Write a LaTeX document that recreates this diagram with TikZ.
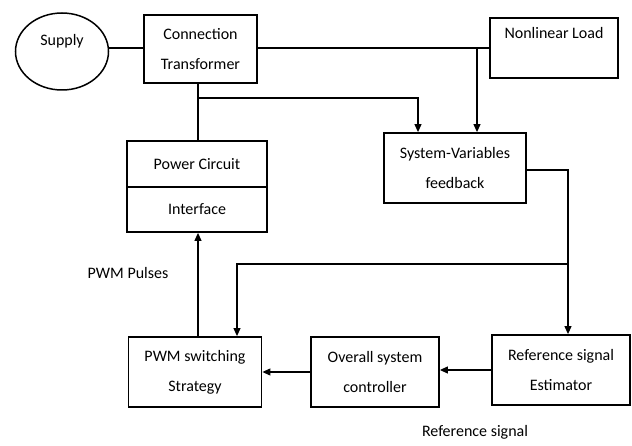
\documentclass[tikz,border=0pt]{standalone}
\usepackage{fontspec}
\setmainfont{Carlito}
\usetikzlibrary{arrows.meta,shapes.geometric}
\begin{document}
\begin{tikzpicture}[x=1pt,y=-1pt,
  font=\fontsize{16}{30}\selectfont,
  blk/.style={draw,line width=1.8pt,rectangle,inner sep=0pt,align=center},
  conn/.style={line width=1.1pt},
  arr/.style={line width=1.1pt,-{Triangle[length=8pt,width=7pt]}},
  lbl/.style={inner sep=0pt}]
\useasboundingbox (0,0) rectangle (632,446);
\node[draw,ellipse,line width=1.5pt,minimum width=93pt,minimum height=77pt,inner sep=0pt] (sup) at (62,51.5) {};
\node[lbl] (supt) at (62,41) {Supply};
\node[blk,minimum width=113pt,minimum height=68pt] (ct) at (200.5,49) {Connection\\Transformer};
\node[blk,minimum width=128pt,minimum height=60pt] (nl) at (554,48) {Nonlinear Load\\\mbox{}};
\node[blk,minimum width=142pt,minimum height=70pt] (svf) at (455,168) {System-Variables\\feedback};
\node[blk,minimum width=140pt,minimum height=46pt] (pc) at (197,164) {Power Circuit};
\node[blk,minimum width=140pt,minimum height=45pt] (intf) at (197,209.5) {Interface};
\node[blk,minimum width=133pt,minimum height=70pt] (pwm) at (195,372) {PWM switching\\Strategy};
\node[blk,minimum width=128pt,minimum height=70pt] (osc) at (375,372) {Overall system\\controller};
\node[blk,minimum width=138pt,minimum height=70pt] (rse) at (561,370) {Reference signal\\Estimator};
\node[lbl] (pwmp) at (128,273) {PWM Pulses};
\node[lbl] (refs) at (475,432) {Reference signal};
\coordinate (j1) at (477,48);
\coordinate (j2) at (198,98);
\coordinate (j3) at (418,98);
\coordinate (j4) at (568,170);
\coordinate (j5) at (568,264);
\coordinate (j6) at (237,264);
\draw[conn] (sup.east |- j1) -- (ct.west |- j1);
\draw[conn] (ct.east |- j1) -- (nl.west |- j1);
\draw[arr] (j1) -- (j1 |- svf.north);
\draw[conn] (ct.south -| j2) -- (pc.north -| j2);
\draw[arr] (j2) -- (j3) -- (j3 |- svf.north);
\draw[arr] (svf.east |- j4) -- (j4) -- (j4 |- rse.north);
\draw[arr] (j5) -- (j6) -- (j6 |- pwm.north);
\draw[arr] (pwm.north -| j2) -- (intf.south -| j2);
\draw[arr] (osc.west) -- (pwm.east |- osc.west);
\draw[arr] (rse.west) -- (osc.east |- rse.west);
\end{tikzpicture}
\end{document}
